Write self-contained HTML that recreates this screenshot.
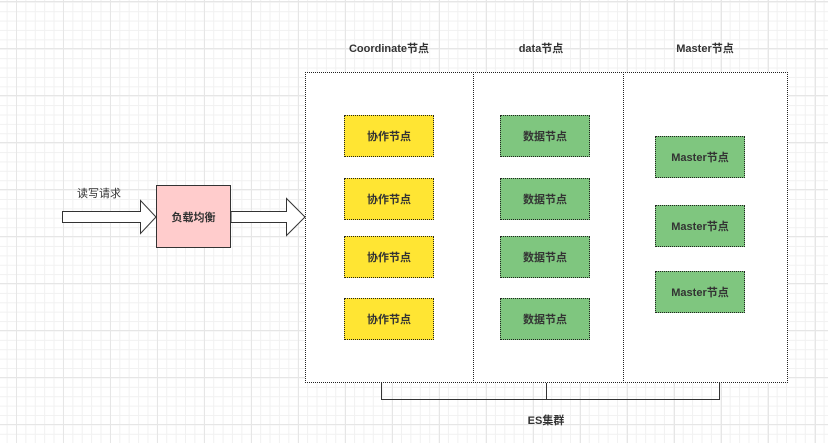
<!DOCTYPE html>
<html><head><meta charset="utf-8"><style>
html,body{margin:0;padding:0}
body{width:828px;height:443px;position:relative;overflow:hidden;background-color:#fff;
background-image:
linear-gradient(to right,#e6e6e6 1px,transparent 1px),
linear-gradient(to bottom,#e6e6e6 1px,transparent 1px),
linear-gradient(to right,#f1f1f1 1px,transparent 1px),
linear-gradient(to bottom,#f1f1f1 1px,transparent 1px);
background-size:47px 47px,47px 47px,9.4px 9.4px,9.4px 9.4px;
background-position:16px 1px,16px 1px,6.6px 1.8px,6.6px 1.8px;
font-family:"Liberation Sans","Noto Sans CJK SC",sans-serif;color:#333}
.t{position:absolute;font-size:11px;font-weight:bold;text-align:center;transform:translate(-50%,-50%);white-space:nowrap}
.b{position:absolute;border:1px dotted #222;box-sizing:border-box;display:flex;align-items:center;justify-content:center;font-size:11px;font-weight:bold;color:#333}
.y{background:#ffe533}.g{background:#7fc67f}
</style></head><body>
<div class="t" style="left:389px;top:48px">Coordinate节点</div>
<div class="t" style="left:541px;top:48px">data节点</div>
<div class="t" style="left:705px;top:48px">Master节点</div>
<div class="b" style="left:305px;top:72px;width:483px;height:311px;background:#fff"></div>
<div style="position:absolute;left:473px;top:72px;height:311px;border-left:1px dotted #222"></div>
<div style="position:absolute;left:623px;top:72px;height:311px;border-left:1px dotted #222"></div>

<div class="b y" style="left:344px;top:115px;width:90px;height:42px">协作节点</div>
<div class="b y" style="left:344px;top:178px;width:90px;height:42px">协作节点</div>
<div class="b y" style="left:344px;top:236px;width:90px;height:42px">协作节点</div>
<div class="b y" style="left:344px;top:298px;width:90px;height:42px">协作节点</div>

<div class="b g" style="left:500px;top:115px;width:90px;height:42px">数据节点</div>
<div class="b g" style="left:500px;top:178px;width:90px;height:42px">数据节点</div>
<div class="b g" style="left:500px;top:236px;width:90px;height:42px">数据节点</div>
<div class="b g" style="left:500px;top:298px;width:90px;height:42px">数据节点</div>

<div class="b g" style="left:655px;top:136px;width:90px;height:42px">Master节点</div>
<div class="b g" style="left:655px;top:205px;width:90px;height:42px">Master节点</div>
<div class="b g" style="left:655px;top:271px;width:90px;height:42px">Master节点</div>

<div class="t" style="left:99px;top:193px;font-weight:normal">读写请求</div>
<div class="b" style="left:156px;top:185px;width:75px;height:63px;background:#ffcccc;border:1px solid #333">负载均衡</div>

<svg width="828" height="443" style="position:absolute;left:0;top:0">
<polygon points="62.5,211.5 140.5,211.5 140.5,200.5 156,217 140.5,233.5 140.5,222.5 62.5,222.5" fill="#fff" stroke="#333" stroke-width="1"/>
<polygon points="231,211.5 286.5,211.5 286.5,198.5 305,217 286.5,235.5 286.5,222.5 231,222.5" fill="#fff" stroke="#333" stroke-width="1"/>
<polyline points="381.5,383 381.5,399.5 719.5,399.5 719.5,383" fill="none" stroke="#333" stroke-width="1"/>
<line x1="546.5" y1="383" x2="546.5" y2="399.5" stroke="#333"/>
</svg>
<div class="t" style="left:546px;top:420px">ES集群</div>
</body></html>
